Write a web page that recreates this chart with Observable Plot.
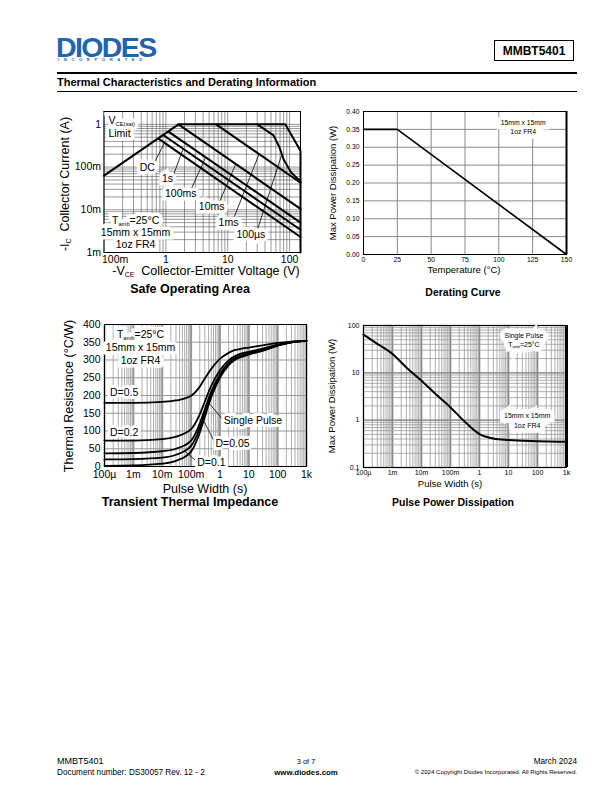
<!DOCTYPE html>
<html><head><meta charset="utf-8">
<script src="https://cdn.jsdelivr.net/npm/d3@7"></script>
<script src="https://cdn.jsdelivr.net/npm/@observablehq/plot@0.6"></script>
<style>
body{margin:0;background:#fff;}
#page{position:relative;width:612px;height:792px;font-family:"Liberation Sans",Arial,Helvetica,sans-serif;color:#000;overflow:hidden;background:#fff;}
.abs{position:absolute;white-space:nowrap;line-height:1;}
.chart{position:absolute;}
sub{font-size:0.55em;vertical-align:-0.3em;line-height:0;}
</style></head><body><div id="page"></div>
<script>
// ---------------- data ----------------
// Safe Operating Area (V, A)
const soaXTicks = [0.1, 1, 10, 100];
const soaXTickLabels = ["100m", "1", "10", "100"];
const soaYTicks = [0.001, 0.01, 0.1, 1];
const soaYTickLabels = ["1m", "10m", "100m", "1"];
const soaLimit = [[0.1, 0.063], [1.6, 1], [85, 1], [150, 0.24], [150, 0.001]];
const soaDC = [[0.78, 0.45], [150, 0.0023]];
const soa1s = [[0.93, 0.55], [150, 0.0034]];
const soa100ms = [[1.13, 0.66], [150, 0.005]];
const soa10ms = [[1.6, 1], [150, 0.0105]];
const soa1ms = [[6.5, 1], [150, 0.043]];
const soa100us = [[30, 1], [55, 0.55], [68, 0.3], [80, 0.15], [106, 0.075], [150, 0.046]];

// Derating curve
const deratingTemp = [0, 25, 150];
const deratingPower = [0.35, 0.35, 0];
const deratingXTicks = [0, 25, 50, 75, 100, 125, 150];
const deratingYTicks = [0, 0.05, 0.1, 0.15, 0.2, 0.25, 0.3, 0.35, 0.4];

// Transient thermal impedance (s, °C/W)
const ttiXTicks = [1e-4, 1e-3, 1e-2, 1e-1, 1, 10, 100, 1000];
const ttiXTickLabels = ["100µ", "1m", "10m", "100m", "1", "10", "100", "1k"];
const ttiYTicks = [0, 50, 100, 150, 200, 250, 300, 350, 400];
const ttiTime = [1e-4, 1e-3, 0.01, 0.03, 0.1, 0.2, 0.3, 0.5, 1, 2, 3, 5, 10, 30, 100, 300, 1000];
const ttiD05 = [179, 179, 182, 186, 199, 225, 248, 275, 303, 320, 327, 331, 335, 341, 348, 352, 354];
const ttiD02 = [73, 73, 77, 84, 105, 147, 183, 227, 271, 299, 309, 317, 323, 332, 343, 351, 354];
const ttiD01 = [37, 38, 43, 50, 73, 121, 162, 211, 260, 292, 304, 312, 319, 329, 342, 350, 354];
const ttiD005 = [20, 21, 25, 33, 58, 108, 151, 203, 255, 288, 301, 309, 317, 327, 341, 350, 354];
const ttiSingle = [2, 3, 8, 16, 42, 95, 140, 195, 250, 285, 298, 307, 315, 326, 340, 350, 354];

// Pulse power dissipation (s, W)
const ppdXTicks = ttiXTicks;
const ppdXTickLabels = ttiXTickLabels;
const ppdYTicks = [0.1, 1, 10, 100];
const ppdYTickLabels = ["0.1", "1", "10", "100"];
const ppdTime = [1e-4, 3e-4, 1e-3, 3e-3, 0.01, 0.03, 0.1, 0.3, 1, 3, 10, 100, 1000];
const ppdPower = [64, 41, 25, 13, 6.8, 3.6, 1.86, 0.95, 0.51, 0.41, 0.38, 0.36, 0.35];

// ---------------- helpers ----------------
const FONT = '"Liberation Sans", Arial, Helvetica, sans-serif';
const page = document.getElementById("page");
function html(str, css) {
  const d = document.createElement("div");
  d.className = "abs"; d.innerHTML = str;
  Object.assign(d.style, css);
  page.appendChild(d); return d;
}
function put(svg, left, top) {
  const w = document.createElement("div");
  w.className = "chart"; w.style.left = left + "px"; w.style.top = top + "px";
  w.appendChild(svg); page.appendChild(w);
  subify(svg);
}
function subify(root) {
  root.querySelectorAll("text, tspan").forEach(node => {
    if (node.children.length) return;
    const s = node.textContent;
    if (!s.includes("_{")) return;
    node.textContent = "";
    s.split(/(_\{[^}]*\})/).forEach(p => {
      if (!p) return;
      const t = document.createElementNS("http://www.w3.org/2000/svg", "tspan");
      if (p.startsWith("_{")) { t.textContent = p.slice(2, -1); t.setAttribute("font-size", "0.55em"); t.setAttribute("baseline-shift", "-30%"); }
      else t.textContent = p;
      node.appendChild(t);
    });
  });
}
const logGrid = (e0, e1) => d3.range(e0, e1).flatMap(e => d3.range(1, 10).map(m => m * Math.pow(10, e)));
const fmt = (ticks, labels) => d => labels[ticks.indexOf(d)] ?? "";
// white box (halo layer) + black text layer
function labels(data, anchor, fontSize, lineHeight, haloWidth) {
  const o = {x: "x", y: "y", text: "t", textAnchor: anchor, fontSize, lineHeight};
  return [
    Plot.text(data, {...o, fill: "white", stroke: "white", strokeWidth: haloWidth, strokeLinejoin: "miter"}),
    Plot.text(data, {...o, fill: "black"})
  ];
}

// ---------------- header ----------------
html("DIODES", {left: "56px", top: "37px", fontSize: "28.5px", lineHeight: "20px", fontWeight: "bold", color: "#1f64ad", letterSpacing: "-1.6px", fontFamily: FONT});
html("INCORPORATED", {left: "58px", top: "58px", fontSize: "4.2px", fontWeight: "bold", color: "#1f64ad", letterSpacing: "4.6px"});
html("MMBT5401", {left: "494px", top: "40px", width: "80px", height: "21px", border: "1px solid #000", fontSize: "12px", fontWeight: "bold", display: "flex", alignItems: "center", justifyContent: "center", boxSizing: "border-box"});
html("", {left: "57px", top: "72px", width: "520px", height: "2px", background: "#000"});
html("Thermal Characteristics and Derating Information", {left: "57px", top: "77px", fontSize: "11px", fontWeight: "bold"});
html("", {left: "57px", top: "91px", width: "520px", height: "1px", background: "#000"});

// ---------------- SOA ----------------
const soaCurves = {limit: soaLimit, dc: soaDC, s1: soa1s, ms100: soa100ms, ms10: soa10ms, ms1: soa1ms, us100: soa100us};
const soaRows = Object.entries(soaCurves).flatMap(([k, pts]) => pts.map(([v, i]) => ({k, v, i})));
const soaLabelsStart = [{x: 0.118, y: 0.9, t: "V_{CE(sat)}\nLimit"}];
const soaLabelsMid = [
  {x: 0.5, y: 0.098, t: "DC"},
  {x: 1.06, y: 0.0545, t: "1s"},
  {x: 1.74, y: 0.0248, t: "100ms"},
  {x: 5.5, y: 0.0121, t: "10ms"},
  {x: 10.3, y: 0.0051, t: "1ms"},
  {x: 23.7, y: 0.0027, t: "100µs"},
  {x: 0.324, y: 0.003, t: "T_{amb}=25°C\n15mm x 15mm\n1oz FR4"}
];
const soaLeaders = [
  {x1: 0.62, y1: 0.11, x2: 0.95, y2: 0.37},
  {x1: 1.3, y1: 0.06, x2: 1.9, y2: 0.27},
  {x1: 2.5, y1: 0.028, x2: 4.4, y2: 0.17},
  {x1: 7.3, y1: 0.015, x2: 13.4, y2: 0.115},
  {x1: 12.7, y1: 0.0067, x2: 32, y2: 0.2},
  {x1: 30.5, y1: 0.0036, x2: 75, y2: 0.2}
];
put(Plot.plot({
  width: 270, height: 180, marginLeft: 63.5, marginRight: 10, marginTop: 11, marginBottom: 28,
  style: {fontFamily: FONT, fontSize: "10.5px", background: "none", overflow: "visible", color: "#000"},
  x: {type: "log", domain: [0.1, 150], label: null},
  y: {type: "log", domain: [0.001, 2], ticks: soaYTicks, tickFormat: fmt(soaYTicks, soaYTickLabels), tickSize: 0, tickPadding: 3, label: null},
  marks: [
    Plot.ruleX(logGrid(-1, 3).filter(d => d <= 150), {stroke: "#555", strokeWidth: 0.6}),
    Plot.ruleY(logGrid(-3, 1).concat([2]).filter(d => d <= 2), {stroke: "#555", strokeWidth: 0.6}),
    Plot.axisX(soaXTicks.slice(1), {tickSize: 0, tickPadding: 3, tickFormat: fmt(soaXTicks, soaXTickLabels), label: null}),
    Plot.axisX(soaXTicks.slice(0, 1), {tickSize: 0, tickPadding: 3, tickFormat: fmt(soaXTicks, soaXTickLabels), textAnchor: "start", dx: -2, label: null}),
    Plot.frame({stroke: "#000", strokeWidth: 1}),
    Plot.line(soaRows, {x: "v", y: "i", z: "k", stroke: "#000", strokeWidth: 2}),
    Plot.link(soaLeaders, {x1: "x1", y1: "y1", x2: "x2", y2: "y2", stroke: "#000", strokeWidth: 0.8}),
    ...labels(soaLabelsStart, "start", 10.5, 1.2, 7),
    ...labels(soaLabelsMid, "middle", 10.5, 1.12, 7)
  ]
}), 40, 100);
html("-I<sub>C</sub>&nbsp; Collector Current (A)", {left: "65px", top: "184px", fontSize: "12.5px", transform: "translate(-50%,-50%) rotate(-90deg)"});
html("-V<sub>CE</sub>&nbsp; Collector-Emitter Voltage (V)", {left: "206px", top: "271px", fontSize: "12.5px", transform: "translate(-50%,-50%)"});
html("Safe Operating Area", {left: "190px", top: "289px", fontSize: "12.5px", fontWeight: "bold", transform: "translate(-50%,-50%)"});

// ---------------- Derating ----------------
const deratingRows = deratingTemp.map((t, i) => ({t, p: deratingPower[i]}));
put(Plot.plot({
  width: 260, height: 175, marginLeft: 43, marginRight: 14, marginTop: 11, marginBottom: 21,
  style: {fontFamily: FONT, fontSize: "6.8px", background: "none", overflow: "visible", color: "#000"},
  x: {domain: [0, 150], ticks: deratingXTicks, tickFormat: d3.format("d"), tickSize: 0, tickPadding: 3, label: null},
  y: {domain: [0, 0.4], ticks: deratingYTicks, tickFormat: d3.format(".2f"), tickSize: 0, tickPadding: 4, label: null},
  marks: [
    Plot.ruleX(deratingXTicks, {stroke: "#888", strokeWidth: 1}),
    Plot.ruleY(deratingYTicks, {stroke: "#888", strokeWidth: 1}),
    Plot.frame({stroke: "#000", strokeWidth: 1}),
    Plot.ruleX([150], {stroke: "#000", strokeWidth: 2}),
    ...labels([{x: 118, y: 0.358, t: "15mm x 15mm\n1oz FR4"}], "middle", 6.8, 1.35, 9),
    Plot.line(deratingRows, {x: "t", y: "p", stroke: "#000", strokeWidth: 1.6})
  ]
}), 320, 100);
html("Temperature (°C)", {left: "464px", top: "270px", fontSize: "9.5px", transform: "translate(-50%,-50%)"});
html("Max Power Dissipation (W)", {left: "333px", top: "183px", fontSize: "9.5px", transform: "translate(-50%,-50%) rotate(-90deg)"});
html("Derating Curve", {left: "463px", top: "292px", fontSize: "10.5px", fontWeight: "bold", transform: "translate(-50%,-50%)"});

// ---------------- Transient thermal impedance ----------------
const ttiCurves = {d05: ttiD05, d02: ttiD02, d01: ttiD01, d005: ttiD005, single: ttiSingle};
const ttiRows = Object.entries(ttiCurves).flatMap(([k, vals]) => vals.map((r, i) => ({k, t: ttiTime[i], r})));
const ttiLabelsMid = [{x: 0.00177, y: 337, t: "T_{amb}=25°C\n15mm x 15mm\n1oz FR4"}];
const ttiLabelsStart = [
  {x: 1.55e-4, y: 209, t: "D=0.5"},
  {x: 1.55e-4, y: 97, t: "D=0.2"},
  {x: 1.36, y: 130, t: "Single Pulse"},
  {x: 0.7, y: 66, t: "D=0.05"},
  {x: 0.163, y: 13, t: "D=0.1"}
];
const ttiLeaders = [
  {x1: 1.3, y1: 131, x2: 0.4, y2: 180},
  {x1: 0.66, y1: 68, x2: 0.25, y2: 135},
  {x1: 0.15, y1: 16, x2: 0.056, y2: 45}
];
put(Plot.plot({
  width: 275, height: 175, marginLeft: 64, marginRight: 9, marginTop: 12, marginBottom: 21,
  style: {fontFamily: FONT, fontSize: "10.5px", background: "none", overflow: "visible", color: "#000"},
  x: {type: "log", domain: [1e-4, 1000], ticks: ttiXTicks, tickFormat: fmt(ttiXTicks, ttiXTickLabels), tickSize: 0, tickPadding: 4, label: null},
  y: {domain: [0, 400], ticks: ttiYTicks, tickFormat: d3.format("d"), tickSize: 0, tickPadding: 4, label: null},
  marks: [
    Plot.ruleX(logGrid(-4, 3), {stroke: "#999", strokeWidth: 0.8}),
    Plot.ruleX(ttiXTicks, {stroke: "#999", strokeWidth: 2}),
    Plot.ruleY(ttiYTicks, {stroke: "#999", strokeWidth: 1}),
    Plot.frame({stroke: "#000", strokeWidth: 1}),
    Plot.line(ttiRows, {x: "t", y: "r", z: "k", stroke: "#000", strokeWidth: 1.8, curve: "monotone-x"}),
    Plot.link(ttiLeaders, {x1: "x1", y1: "y1", x2: "x2", y2: "y2", stroke: "#000", strokeWidth: 0.8}),
    ...labels(ttiLabelsMid, "middle", 10.5, 1.27, 7),
    ...labels(ttiLabelsStart, "start", 10.5, 1.2, 6)
  ]
}), 40, 312);
html("Pulse Width (s)", {left: "205px", top: "489px", fontSize: "12.5px", transform: "translate(-50%,-50%)"});
html("Thermal Resistance (°C/W)", {left: "69px", top: "396px", fontSize: "12.5px", transform: "translate(-50%,-50%) rotate(-90deg)"});
html("Transient Thermal Impedance", {left: "190px", top: "502px", fontSize: "12.5px", fontWeight: "bold", transform: "translate(-50%,-50%)"});

// ---------------- Pulse power dissipation ----------------
const ppdRows = ppdTime.map((t, i) => ({t, p: ppdPower[i]}));
put(Plot.plot({
  width: 260, height: 175, marginLeft: 43, marginRight: 14, marginTop: 13, marginBottom: 20,
  style: {fontFamily: FONT, fontSize: "7px", background: "none", overflow: "visible", color: "#000"},
  x: {type: "log", domain: [1e-4, 1000], ticks: ppdXTicks, tickFormat: fmt(ppdXTicks, ppdXTickLabels), tickSize: 0, tickPadding: 3, label: null},
  y: {type: "log", domain: [0.1, 100], ticks: ppdYTicks, tickFormat: fmt(ppdYTicks, ppdYTickLabels), tickSize: 0, tickPadding: 4, label: null},
  marks: [
    Plot.ruleX(logGrid(-4, 3), {stroke: "#999", strokeWidth: 0.8}),
    Plot.ruleX(ppdXTicks, {stroke: "#888", strokeWidth: 1.6}),
    Plot.ruleY(logGrid(-1, 2), {stroke: "#999", strokeWidth: 0.8}),
    Plot.ruleY(ppdYTicks, {stroke: "#888", strokeWidth: 1.4}),
    Plot.frame({stroke: "#000", strokeWidth: 1}),
    Plot.ruleX([1000], {stroke: "#000", strokeWidth: 3}),
    ...labels([{x: 34, y: 50, t: "Single Pulse\nT_{amb}=25°C"}, {x: 44, y: 1.0, t: "15mm x 15mm\n1oz FR4"}], "middle", 7, 1.35, 9),
    Plot.line(ppdRows, {x: "t", y: "p", stroke: "#000", strokeWidth: 2, curve: "monotone-x"})
  ]
}), 320, 312);
html("Pulse Width (s)", {left: "450px", top: "484px", fontSize: "9.5px", transform: "translate(-50%,-50%)"});
html("Max Power Dissipation (W)", {left: "332px", top: "396px", fontSize: "9.5px", transform: "translate(-50%,-50%) rotate(-90deg)"});
html("Pulse Power Dissipation", {left: "453px", top: "502px", fontSize: "10.5px", fontWeight: "bold", transform: "translate(-50%,-50%)"});

// ---------------- footer ----------------
html("MMBT5401", {left: "57px", top: "757px", fontSize: "9px"});
html("Document number: DS30057 Rev. 12 - 2", {left: "57px", top: "768.5px", fontSize: "8.2px"});
html("3 of 7", {left: "306px", top: "762px", fontSize: "7.4px", transform: "translate(-50%,-50%)"});
html("www.diodes.com", {left: "306px", top: "773px", fontSize: "7.8px", fontWeight: "bold", transform: "translate(-50%,-50%)"});
html("March 2024", {right: "35px", top: "757.5px", fontSize: "8.2px"});
html("© 2024 Copyright Diodes Incorporated. All Rights Reserved.", {right: "35px", top: "769px", fontSize: "6.1px"});
</script></body></html>
